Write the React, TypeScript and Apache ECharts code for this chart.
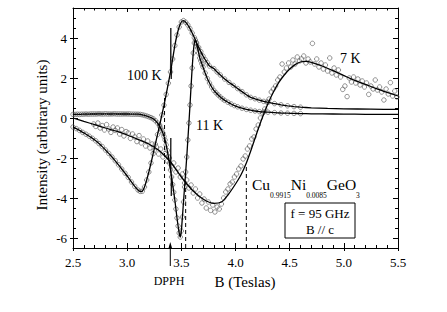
import React, { useEffect, useRef } from "react";
import * as echarts from "echarts";

// ---------- data ----------
const bRange = [2.5, 5.5];
const vRange = [-6.5, 5.5];
const yMajorTicks = [-6, -4, -2, 0, 2, 4];

// 100 K: measured points (circles) and fit continuation
const trace100: [number, number][] = [
  [2.5, -0.45], [2.53, -0.53], [2.56, -0.62], [2.59, -0.72], [2.62, -0.81], [2.65, -0.91],
  [2.68, -1.02], [2.71, -1.14], [2.74, -1.28], [2.77, -1.43], [2.8, -1.6], [2.83, -1.77],
  [2.86, -1.95], [2.89, -2.14], [2.92, -2.34], [2.95, -2.55], [2.98, -2.76], [3.01, -2.97],
  [3.04, -3.2], [3.07, -3.42], [3.1, -3.6], [3.12, -3.67], [3.14, -3.66], [3.16, -3.45],
  [3.18, -3.1], [3.2, -2.7], [3.22, -2.25], [3.24, -1.78], [3.26, -1.31], [3.28, -0.83],
  [3.3, -0.35], [3.32, 0.15], [3.34, 0.64], [3.36, 1.18], [3.38, 1.74], [3.4, 2.3],
  [3.42, 2.95], [3.44, 3.62], [3.46, 4.15], [3.48, 4.55], [3.5, 4.8], [3.52, 4.87],
  [3.54, 4.79], [3.56, 4.65], [3.58, 4.47], [3.6, 4.25], [3.62, 4.02], [3.64, 3.77],
  [3.66, 3.53], [3.68, 3.32], [3.7, 3.1], [3.72, 2.92], [3.74, 2.76], [3.76, 2.6],
  [3.8, 2.47], [3.83, 2.3], [3.86, 2.15], [3.9, 1.95], [3.94, 1.78], [3.98, 1.63],
  [4.02, 1.47], [4.06, 1.32], [4.1, 1.16], [4.14, 1.03], [4.18, 0.96], [4.22, 0.89],
  [4.26, 0.83], [4.3, 0.78], [4.36, 0.72], [4.42, 0.66], [4.48, 0.61], [4.54, 0.57], [4.6, 0.54],
];
const tail100: [number, number][] = [
  [4.7, 0.51], [4.85, 0.48], [5.0, 0.46], [5.25, 0.44], [5.5, 0.43],
];

// 11 K
const trace11: [number, number][] = [
  [2.5, 0.18], [2.52, 0.18], [2.54, 0.19], [2.56, 0.18], [2.58, 0.19], [2.6, 0.19],
  [2.62, 0.2], [2.64, 0.19], [2.66, 0.2], [2.68, 0.2], [2.7, 0.2], [2.72, 0.2],
  [2.74, 0.21], [2.76, 0.2], [2.78, 0.2], [2.8, 0.21], [2.82, 0.2], [2.84, 0.2],
  [2.86, 0.2], [2.88, 0.21], [2.9, 0.2], [2.92, 0.2], [2.94, 0.2], [2.96, 0.2],
  [2.98, 0.2], [3.0, 0.2], [3.02, 0.2], [3.04, 0.19], [3.06, 0.19], [3.08, 0.19],
  [3.1, 0.19], [3.12, 0.18], [3.14, 0.16], [3.16, 0.13], [3.18, 0.1], [3.2, 0.06],
  [3.22, 0.02], [3.24, -0.04], [3.26, -0.13], [3.28, -0.25], [3.3, -0.42], [3.31, -0.52],
  [3.32, -0.63], [3.33, -0.76], [3.34, -0.92], [3.35, -1.1], [3.36, -1.34], [3.37, -1.62],
  [3.38, -1.92], [3.39, -2.25], [3.4, -2.6], [3.41, -2.95], [3.42, -3.33], [3.43, -3.71],
  [3.44, -4.1], [3.45, -4.55], [3.46, -5.0], [3.47, -5.4], [3.48, -5.75], [3.49, -5.95],
  [3.5, -5.65], [3.51, -4.95], [3.52, -4.2], [3.53, -3.45], [3.54, -2.7], [3.55, -1.95],
  [3.56, -1.1], [3.57, -0.25], [3.58, 0.65], [3.59, 1.6], [3.6, 2.5], [3.61, 3.25],
  [3.62, 3.75], [3.63, 3.9], [3.64, 3.72], [3.65, 3.5], [3.66, 3.25], [3.67, 3.0],
  [3.68, 2.85], [3.69, 2.7], [3.7, 2.55], [3.72, 2.25], [3.74, 1.97], [3.76, 1.75],
  [3.78, 1.55], [3.8, 1.38], [3.82, 1.26], [3.84, 1.15], [3.86, 1.05], [3.88, 0.96],
  [3.9, 0.88], [3.93, 0.79], [3.96, 0.7], [3.99, 0.62], [4.02, 0.56], [4.06, 0.49],
  [4.1, 0.43], [4.14, 0.39], [4.18, 0.35], [4.22, 0.32], [4.26, 0.3], [4.3, 0.29],
  [4.36, 0.27], [4.42, 0.25], [4.48, 0.24], [4.54, 0.23], [4.6, 0.22],
];
const tail11: [number, number][] = [
  [4.7, 0.21], [4.9, 0.2], [5.1, 0.19], [5.3, 0.18], [5.5, 0.18],
];

// 7 K: scattered measurements and fit
const data7: [number, number][] = [
  [2.69, -0.3], [2.71, -0.42], [2.73, -0.25], [2.75, -0.5], [2.77, -0.38], [2.79, -0.6],
  [2.81, -0.33], [2.83, -0.55], [2.85, -0.72], [2.87, -0.45], [2.89, -0.62], [2.91, -0.5],
  [2.93, -0.8], [2.95, -0.58], [2.97, -0.9], [2.99, -0.68], [3.01, -0.75], [3.03, -1.02],
  [3.05, -0.8], [3.07, -0.95], [3.09, -1.18], [3.11, -0.88], [3.13, -1.25], [3.15, -1.05],
  [3.17, -1.4], [3.19, -1.15], [3.21, -1.5], [3.23, -1.3], [3.25, -1.62], [3.27, -1.45],
  [3.29, -1.8], [3.31, -1.55], [3.33, -1.95], [3.35, -1.78], [3.37, -2.15], [3.39, -2.0],
  [3.41, -2.4], [3.43, -2.25], [3.45, -2.7], [3.47, -2.5], [3.49, -2.95], [3.51, -2.8],
  [3.53, -3.25], [3.55, -3.1], [3.57, -3.5], [3.59, -3.35], [3.61, -3.75], [3.63, -3.55],
  [3.65, -4.0], [3.67, -3.8], [3.69, -4.25], [3.71, -4.05], [3.73, -4.5], [3.75, -4.2],
  [3.77, -4.62], [3.79, -4.35], [3.81, -4.7], [3.83, -4.45], [3.85, -4.55], [3.87, -4.3],
  [3.89, -4.0], [3.91, -3.7], [3.93, -3.55], [3.95, -3.3], [3.97, -3.2], [3.99, -2.95],
  [4.01, -2.8], [4.03, -2.55], [4.05, -2.4], [4.07, -2.05], [4.09, -1.9], [4.11, -1.55],
  [4.13, -1.4], [4.15, -1.05], [4.17, -0.95], [4.19, -0.55], [4.21, -0.35], [4.23, 0.0],
  [4.25, 0.25], [4.27, 0.45], [4.29, 0.8], [4.31, 0.95], [4.33, 1.3], [4.35, 1.45],
  [4.37, 1.6], [4.39, 1.9], [4.41, 2.05], [4.43, 2.7], [4.45, 2.3], [4.47, 2.5],
  [4.49, 2.75], [4.51, 2.55], [4.53, 2.9], [4.55, 2.7], [4.57, 3.05], [4.59, 2.85],
  [4.61, 2.95], [4.63, 3.1], [4.65, 2.75], [4.67, 2.95], [4.69, 2.8], [4.71, 3.73],
  [4.73, 2.7], [4.75, 2.95], [4.77, 2.55], [4.79, 2.75], [4.81, 2.45], [4.83, 2.65],
  [4.85, 2.35], [4.87, 3.0], [4.89, 2.25], [4.91, 2.5], [4.93, 2.15], [4.95, 2.4],
  [4.97, 2.05], [4.99, 1.43], [5.01, 1.6], [5.03, 1.07], [5.05, 2.0], [5.07, 1.8],
  [5.09, 2.05], [5.11, 1.75], [5.13, 1.95], [5.15, 1.65], [5.17, 1.85], [5.19, 1.55],
  [5.21, 1.75], [5.23, 1.18], [5.25, 1.6], [5.27, 1.45], [5.29, 1.9], [5.31, 1.4],
  [5.33, 1.55], [5.35, 1.3], [5.37, 0.9], [5.39, 1.45], [5.41, 1.2], [5.43, 1.77],
  [5.45, 1.1], [5.47, 1.35], [5.49, 1.05],
];
const fit7: [number, number][] = [
  [2.5, 0.0], [2.6, -0.17], [2.7, -0.33], [2.8, -0.5], [2.9, -0.66], [3.0, -0.85],
  [3.1, -1.07], [3.2, -1.3], [3.3, -1.65], [3.4, -2.2], [3.5, -2.95], [3.6, -3.6],
  [3.7, -4.05], [3.8, -4.27], [3.87, -4.2], [3.93, -3.85], [4.0, -3.3], [4.05, -2.85],
  [4.1, -2.25], [4.15, -1.5], [4.2, -0.7], [4.25, 0.05], [4.3, 0.72], [4.35, 1.3],
  [4.4, 1.78], [4.45, 2.15], [4.5, 2.45], [4.55, 2.67], [4.6, 2.8], [4.65, 2.83],
  [4.7, 2.78], [4.8, 2.6], [4.9, 2.37], [5.0, 2.12], [5.1, 1.88], [5.2, 1.68],
  [5.3, 1.47], [5.4, 1.28], [5.5, 1.1],
];

// DPPH marker signal seen in the traces
const dpph100: [number, number][] = [[3.399, 2.35], [3.403, 4.5], [3.407, 1.95], [3.411, 2.55]];
const dpph11: [number, number][] = [[3.399, -2.5], [3.403, -1.0], [3.407, -3.9], [3.411, -2.85]];
const dpphField = 3.398;

// dashed resonance markers
const markerFields = [3.345, 3.54, 4.1];
const markerTops = [1.0, -2.7, -2.4];

// compound formula pieces: [text, isSubscript]
const formulaParts: [string, boolean][] = [
  ["Cu", false], ["0.9915", true], ["Ni", false], ["0.0085", true], ["GeO", false], ["3", true],
];

// ---------- styling ----------
const serif = "Liberation Serif, Times New Roman, Times, serif";
const black = "#000";
const circleGray = "#555";

const GRID = { left: 73, right: 49, top: 8, bottom: 64 };

function baseX(extra: any) {
  return {
    type: "value",
    min: bRange[0],
    max: bRange[1],
    interval: 0.5,
    splitLine: { show: false },
    minorSplitLine: { show: false },
    ...extra,
  };
}
function baseY(extra: any) {
  return {
    type: "value",
    min: vRange[0],
    max: vRange[1],
    interval: 0.5,
    splitLine: { show: false },
    minorSplitLine: { show: false },
    ...extra,
  };
}

const circleStyle = { color: "rgba(0,0,0,0)", borderColor: circleGray, borderWidth: 0.8 };

const option: any = {
  animation: false,
  backgroundColor: "#fff",
  grid: [
    { ...GRID, containLabel: false },
    { ...GRID, containLabel: false },
    { ...GRID, containLabel: false },
  ],
  xAxis: [
    baseX({
      gridIndex: 0,
      position: "bottom",
      axisLine: { show: true, onZero: false, lineStyle: { color: black, width: 1 } },
      axisTick: { show: true, inside: true, length: 5, lineStyle: { color: black } },
      minorTick: { show: true, splitNumber: 5, length: 3, lineStyle: { color: black } },
      axisLabel: {
        show: true,
        margin: 8,
        color: black,
        fontFamily: serif,
        fontSize: 13,
        showMinLabel: true,
        showMaxLabel: true,
        formatter: (v: number) => v.toFixed(1),
      },
    }),
    baseX({
      gridIndex: 0,
      position: "top",
      axisLine: { show: true, onZero: false, lineStyle: { color: black, width: 1 } },
      axisTick: { show: true, inside: true, length: 4, lineStyle: { color: black } },
      minorTick: { show: true, splitNumber: 5, length: 2.5, lineStyle: { color: black } },
      axisLabel: { show: false },
    }),
    baseX({
      gridIndex: 1,
      position: "bottom",
      axisLine: { show: false, onZero: false },
      axisTick: { show: true, inside: false, length: 3, lineStyle: { color: black } },
      axisLabel: { show: false },
    }),
    baseX({
      gridIndex: 2,
      position: "bottom",
      show: false,
    }),
  ],
  yAxis: [
    baseY({
      gridIndex: 0,
      position: "left",
      axisLine: { show: true, onZero: false, lineStyle: { color: black, width: 1 } },
      axisTick: { show: true, inside: true, length: 3, lineStyle: { color: black } },
      axisLabel: {
        show: true,
        margin: 6,
        color: black,
        fontFamily: serif,
        fontSize: 13,
        formatter: (v: number) => (yMajorTicks.indexOf(v) >= 0 ? String(v) : ""),
      },
    }),
    baseY({
      gridIndex: 0,
      position: "right",
      axisLine: { show: true, onZero: false, lineStyle: { color: black, width: 1 } },
      axisTick: { show: true, inside: true, length: 3, lineStyle: { color: black } },
      axisLabel: { show: false },
    }),
    baseY({
      gridIndex: 1,
      position: "left",
      axisLine: { show: false, onZero: false },
      axisTick: { show: true, inside: false, length: 3, customValues: yMajorTicks, lineStyle: { color: black } },
      axisLabel: { show: false },
    }),
    baseY({
      gridIndex: 2,
      position: "left",
      axisLine: { show: false, onZero: false },
      axisTick: { show: true, inside: true, length: 5, customValues: yMajorTicks, lineStyle: { color: black } },
      axisLabel: { show: false },
    }),
    baseY({
      gridIndex: 2,
      position: "right",
      axisLine: { show: false, onZero: false },
      axisTick: { show: true, inside: true, length: 5, customValues: yMajorTicks, lineStyle: { color: black } },
      axisLabel: { show: false },
    }),
  ],
  series: [
    ...markerFields.map((b, i) => ({
      type: "line",
      xAxisIndex: 0,
      yAxisIndex: 0,
      data: [[b, vRange[0]], [b, markerTops[i]]],
      showSymbol: false,
      symbol: "none",
      silent: true,
      lineStyle: { color: black, width: 1, type: [4, 3] },
      z: 1,
    })),
    { type: "scatter", name: "7 K data", data: data7, symbol: "circle", symbolSize: 4.5, itemStyle: circleStyle, silent: true, z: 2 },
    { type: "scatter", name: "100 K data", data: trace100, symbol: "circle", symbolSize: 4.5, itemStyle: circleStyle, silent: true, z: 2 },
    { type: "scatter", name: "11 K data", data: trace11, symbol: "circle", symbolSize: 4.5, itemStyle: circleStyle, silent: true, z: 2 },
    {
      type: "line", name: "7 K fit", data: fit7, smooth: 0.3, showSymbol: false, symbol: "none",
      lineStyle: { color: black, width: 1.3 }, silent: true, z: 3,
    },
    {
      type: "line", name: "100 K fit", data: trace100.concat(tail100), smooth: 0.2, showSymbol: false, symbol: "none",
      lineStyle: { color: black, width: 1.3 }, silent: true, z: 3,
    },
    {
      type: "line", name: "11 K fit", data: trace11.concat(tail11), smooth: 0.2, showSymbol: false, symbol: "none",
      lineStyle: { color: black, width: 1.3 }, silent: true, z: 3,
    },
    {
      type: "line", name: "DPPH 100 K", data: dpph100, showSymbol: false, symbol: "none",
      lineStyle: { color: black, width: 0.8 }, silent: true, z: 3,
    },
    {
      type: "line", name: "DPPH 11 K", data: dpph11, showSymbol: false, symbol: "none",
      lineStyle: { color: black, width: 0.8 }, silent: true, z: 3,
    },
  ],
};

function measure(text: string, size: number): number {
  const ctx = document.createElement("canvas").getContext("2d");
  if (!ctx) return text.length * size * 0.5;
  ctx.font = `${size}px ${serif}`;
  return ctx.measureText(text).width;
}

export default function App() {
  const ref = useRef<HTMLDivElement>(null);
  useEffect(() => {
    const chart = echarts.init(ref.current!, undefined, { renderer: "svg" });
    chart.setOption(option);
    const ax = chart.convertToPixel({ xAxisIndex: 0 }, dpphField) as number;
    const axisBottom = chart.convertToPixel({ yAxisIndex: 0 }, vRange[0]) as number;
    const txt = (text: string, x: number, y: number, size: number, align = "left", extra: any = {}) => ({
      type: "text",
      x,
      y,
      z: 100,
      silent: true,
      ...extra,
      style: { text, fill: black, fontFamily: serif, fontSize: size, align, verticalAlign: "middle" },
    });
    // formula pieces chained by measured widths
    const bigSize = 15.5;
    const subSize = 7.5;
    let fx = 252;
    const formula: any[] = [];
    formulaParts.forEach(([t, sub]) => {
      const size = sub ? subSize : bigSize;
      formula.push(txt(t, fx, sub ? 195 : 184, size, "left"));
      fx += measure(t, size);
    });
    chart.setOption({
      graphic: [
        txt("Intensity (arbitrary units)", 42, 135, 15, "center", { rotation: Math.PI / 2 }),
        txt("B (Teslas)", 245, 282, 15, "center"),
        txt("DPPH", 169, 281, 12, "center"),
        txt("100 K", 127, 75, 14),
        txt("11 K", 196, 125, 14),
        txt("7 K", 340, 58, 14),
        {
          type: "line",
          z: 100,
          silent: true,
          shape: { x1: ax, y1: axisBottom + 18, x2: ax, y2: axisBottom - 3 },
          style: { stroke: black, lineWidth: 1 },
        },
        {
          type: "polygon",
          z: 100,
          silent: true,
          shape: { points: [[ax - 2, axisBottom + 1], [ax + 2, axisBottom + 1], [ax, axisBottom - 6]] },
          style: { fill: black },
        },
        ...formula,
        {
          type: "rect",
          z: 100,
          silent: true,
          shape: { x: 285, y: 203, width: 70, height: 35 },
          style: { fill: "none", stroke: black, lineWidth: 1 },
        },
        txt("f = 95 GHz", 320, 213, 13, "center"),
        txt("B // c", 320, 229, 13, "center"),
      ],
    });
    return () => chart.dispose();
  }, []);
  return (
    <div
      ref={ref}
      style={{ position: "fixed", left: 0, top: 0, width: 447, height: 312, background: "#fff" }}
    />
  );
}
